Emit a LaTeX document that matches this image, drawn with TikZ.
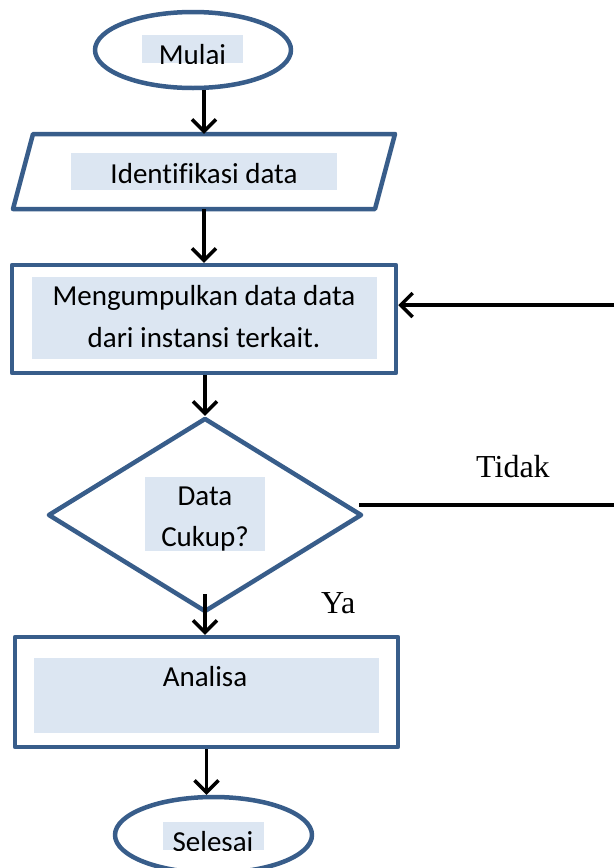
\documentclass[tikz,border=0pt]{standalone}
\usepackage{fontspec}
\setmainfont{Carlito}[Ligatures=NoCommon]
\newfontfamily\timesf{Liberation Serif}
\usetikzlibrary{shapes.geometric,arrows.meta}
\definecolor{bord}{RGB}{56,93,138}
\definecolor{tfill}{RGB}{220,230,242}
\begin{document}
\begin{tikzpicture}[x=1pt,y=-1pt,
  shapeline/.style={draw=bord, line width=4.5pt, line join=round},
  tbox/.style={fill=tfill, inner sep=0pt},
  txt/.style={inner sep=0pt, anchor=base, font=\fontsize{29}{35}\selectfont},
  lbl/.style={inner sep=0pt, anchor=base west, font=\timesf\fontsize{32}{38}\selectfont},
  conn/.style={draw=black, line width=3.5pt},
  flow/.style={conn, -{Straight Barb[length=12pt,width=24pt]}}]
\useasboundingbox (0,0) rectangle (614,868);
\fill[white] (0,0) rectangle (614,868);

% Mulai
\node[ellipse, shapeline, minimum width=196pt, minimum height=76pt, inner sep=0pt] (mulai) at (193,50) {};
\node[tbox, minimum width=101pt, minimum height=28pt] (mulaibox) at (192.5,49) {};
\begin{scope}
  \clip (mulaibox.south west) rectangle (mulaibox.north east);
  \node[txt] (mulaitxt) at (192.5,64) {Mulai};
\end{scope}

% Identifikasi data (parallelogram)
\draw[shapeline] (33,134) -- (395,134) -- (375,209) -- (13,209) -- cycle;
\node[minimum width=362pt, minimum height=75pt, inner sep=0pt] (ident) at (204,171.5) {};
\node[tbox, minimum width=266pt, minimum height=37pt] (identbox) at (204,171.5) {};
\node[txt] (identtxt) at (204,183) {Identifikasi data};

% Mengumpulkan
\node[rectangle, shapeline, minimum width=384pt, minimum height=108pt, inner sep=0pt] (collect) at (204,319) {};
\node[tbox, minimum width=345pt, minimum height=82pt] (collectbox) at (204.5,318) {};
\node[txt] (collecta) at (204,305) {Mengumpulkan data data};
\node[txt] (collectb) at (204,347) {dari instansi terkait.};

% Decision
\node[diamond, shapeline, minimum width=314pt, minimum height=194pt, aspect=1.62, inner sep=0pt] (dec) at (205,515) {};
\node[tbox, minimum width=120pt, minimum height=74pt] (decbox) at (205,514) {};
\node[txt] (deca) at (205,505) {Data};
\node[txt] (decb) at (205,546) {Cukup?};

% Analisa
\node[rectangle, shapeline, minimum width=383pt, minimum height=110pt, inner sep=0pt] (analisa) at (206.5,692) {};
\node[tbox, minimum width=345pt, minimum height=75pt] (analisabox) at (206.5,695.5) {};
\node[txt] (analisatxt) at (205,686) {Analisa};

% Selesai
\node[ellipse, shapeline, minimum width=197pt, minimum height=76pt, inner sep=0pt] (selesai) at (213.5,835) {};
\node[tbox, minimum width=101pt, minimum height=28pt] (selesaibox) at (213.5,836) {};
\begin{scope}
  \clip (selesaibox.south west) rectangle (selesaibox.north east);
  \node[txt] (selesaitxt) at (213,851) {Selesai};
\end{scope}

% connectors
\coordinate (tR) at (614,505);
\coordinate (cR) at (614,305);
\draw[flow] (ident.north |- mulai.south) -- (ident.north);
\draw[flow] (ident.south) -- (collect.north);
\draw[flow] (dec.north |- collect.south) -- (dec.north);
\draw[flow] ([yshift=20pt]dec.south) -- (dec.south |- analisa.north);
\draw[flow] (analisa.south) -- (analisa.south |- selesai.north);
\draw[conn] ([xshift=-5pt]dec.east |- tR) -- (tR);
\draw[flow] (cR) -- (collect.east |- cR);

% labels
\node[lbl] (tidak) at (476,477) {Tidak};
\node[lbl] (ya) at (321,613) {Ya};
\end{tikzpicture}
\end{document}
